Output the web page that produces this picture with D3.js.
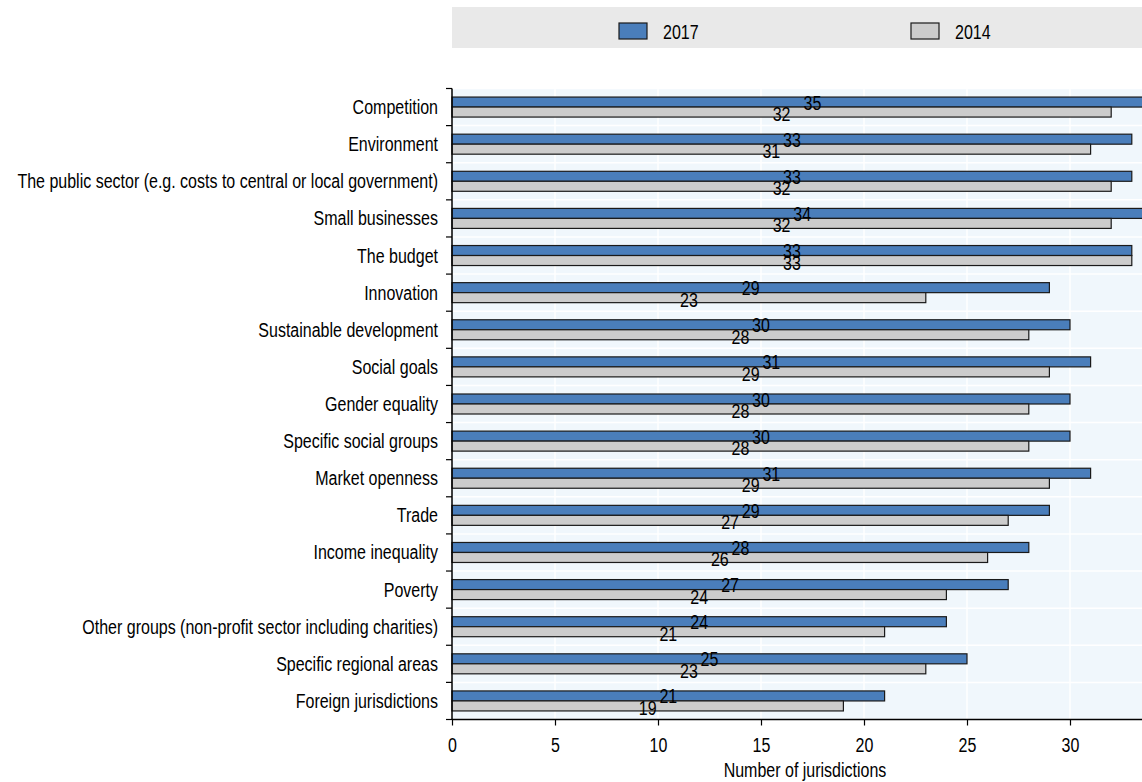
<!DOCTYPE html>
<meta charset="utf-8">
<style>
  body { margin: 0; background: #fff; }
  text { font-family: "Liberation Sans Narrow", "Arial Narrow", "Liberation Sans", Arial, sans-serif; fill: #000; }
</style>
<body>
<script src="https://d3js.org/d3.v7.min.js"></script>
<script>
  var categories = [
    "Competition",
    "Environment",
    "The public sector (e.g. costs to central or local government)",
    "Small businesses",
    "The budget",
    "Innovation",
    "Sustainable development",
    "Social goals",
    "Gender equality",
    "Specific social groups",
    "Market openness",
    "Trade",
    "Income inequality",
    "Poverty",
    "Other groups (non-profit sector including charities)",
    "Specific regional areas",
    "Foreign jurisdictions"
  ];
  var values2017 = [35, 33, 33, 34, 33, 29, 30, 31, 30, 30, 31, 29, 28, 27, 24, 25, 21];
  var values2014 = [32, 31, 32, 32, 33, 23, 28, 29, 28, 28, 29, 27, 26, 24, 21, 23, 19];
  var xTicks = [0, 5, 10, 15, 20, 25, 30];
  var seriesNames = ["2017", "2014"];

  var W = 1142, H = 782;
  var plotLeft = 452, plotTop = 88.5, plotBottom = 719.5;
  var fs = 20;
  var squeeze = 0.8; // no narrow font available, so condense horizontally

  var svg = d3.select("body").append("svg")
    .attr("width", W)
    .attr("height", H);

  var x = d3.scaleLinear().domain([0, 30]).range([plotLeft, 1070]);
  var y = d3.scaleBand().domain(categories).range([plotTop, plotBottom]);

  function label(sel, tx, ty) {
    return sel.attr("transform", "translate(" + tx + "," + ty + ") scale(" + squeeze + ",1)")
      .attr("font-size", fs);
  }

  // legend
  svg.append("rect")
    .attr("x", plotLeft).attr("y", 7)
    .attr("width", W - plotLeft).attr("height", 41)
    .attr("fill", "#e9e9e9");

  var legendX = [619, 911];
  var colors = ["#4a7ebb", "#cccccc"];
  seriesNames.forEach(function(s, i) {
    svg.append("rect")
      .attr("x", legendX[i]).attr("y", 23)
      .attr("width", 28).attr("height", 16)
      .attr("fill", colors[i])
      .attr("stroke", "#1a1a1a").attr("stroke-width", 1.2);
    label(svg.append("text"), legendX[i] + 44, 38.5).text(s);
  });

  // plot background
  svg.append("rect")
    .attr("x", plotLeft).attr("y", plotTop)
    .attr("width", W - plotLeft).attr("height", plotBottom - plotTop)
    .attr("fill", "#f0f7fc");

  // grid
  svg.selectAll(".vgrid").data(xTicks.slice(1)).enter().append("line")
    .attr("x1", function(d) { return x(d); })
    .attr("x2", function(d) { return x(d); })
    .attr("y1", plotTop).attr("y2", plotBottom)
    .attr("stroke", "#fff").attr("stroke-width", 1.5);

  var bounds = categories.map(function(c) { return y(c); }).concat([plotBottom]);
  svg.selectAll(".hgrid").data(bounds).enter().append("line")
    .attr("x1", plotLeft).attr("x2", W)
    .attr("y1", function(d) { return d; })
    .attr("y2", function(d) { return d; })
    .attr("stroke", "#fff").attr("stroke-width", 1.5);

  // bars
  var bh = 10;
  var rows = categories.map(function(c, i) {
    return { cat: c, v17: values2017[i], v14: values2014[i] };
  });

  var g = svg.selectAll(".row").data(rows).enter().append("g");

  g.append("rect")
    .attr("x", x(0))
    .attr("y", function(d) { return y(d.cat) + y.bandwidth() / 2 - bh; })
    .attr("width", function(d) { return x(d.v17) - x(0); })
    .attr("height", bh)
    .attr("fill", colors[0])
    .attr("stroke", "#1a1a1a").attr("stroke-width", 1.2);

  g.append("rect")
    .attr("x", x(0))
    .attr("y", function(d) { return y(d.cat) + y.bandwidth() / 2; })
    .attr("width", function(d) { return x(d.v14) - x(0); })
    .attr("height", bh)
    .attr("fill", colors[1])
    .attr("stroke", "#1a1a1a").attr("stroke-width", 1.2);

  // value labels, centred at half the bar length
  g.append("text")
    .attr("text-anchor", "middle")
    .each(function(d) {
      label(d3.select(this), x(d.v17 / 2), y(d.cat) + y.bandwidth() / 2 + 2.5);
    })
    .text(function(d) { return d.v17; });

  g.append("text")
    .attr("text-anchor", "middle")
    .each(function(d) {
      label(d3.select(this), x(d.v14 / 2), y(d.cat) + y.bandwidth() / 2 + 14);
    })
    .text(function(d) { return d.v14; });

  // y axis
  svg.append("line")
    .attr("x1", plotLeft).attr("x2", plotLeft)
    .attr("y1", plotTop).attr("y2", plotBottom)
    .attr("stroke", "#000").attr("stroke-width", 1.5);
  svg.selectAll(".ytick").data(bounds).enter().append("line")
    .attr("x1", plotLeft - 6).attr("x2", plotLeft)
    .attr("y1", function(d) { return d; })
    .attr("y2", function(d) { return d; })
    .attr("stroke", "#000").attr("stroke-width", 1.2);

  svg.selectAll(".ylab").data(categories).enter().append("text")
    .attr("dy", "0.35em")
    .attr("text-anchor", "end")
    .each(function(d) {
      label(d3.select(this), plotLeft - 14, y(d) + y.bandwidth() / 2);
    })
    .text(function(d) { return d; });

  // x axis
  var xAxis = svg.append("g")
    .attr("transform", "translate(0," + plotBottom + ")")
    .call(d3.axisBottom(x).tickValues(xTicks).tickSize(6).tickPadding(12));
  xAxis.select(".domain")
    .attr("d", "M" + plotLeft + ",0H" + W)
    .attr("stroke-width", 1.5);
  xAxis.selectAll(".tick line").attr("stroke-width", 1.2);
  xAxis.selectAll(".tick text")
    .attr("font-size", fs)
    .attr("transform", "scale(" + squeeze + ",1)");
  xAxis.attr("font-family", null).attr("font-size", null);

  // axis title is centred on the full (uncropped) plot width
  label(svg.append("text"), 805, 777)
    .attr("text-anchor", "middle")
    .text("Number of jurisdictions");
</script>
</body>
